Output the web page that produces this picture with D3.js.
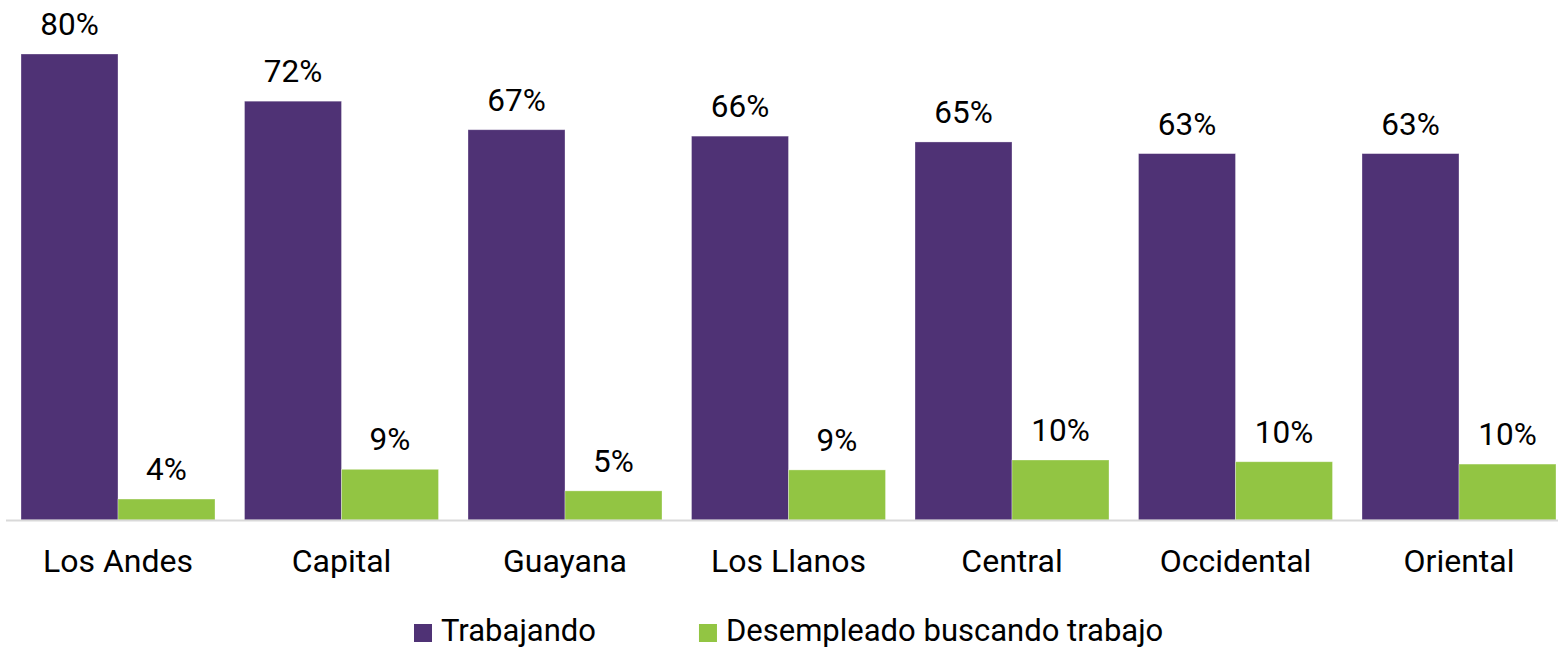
<!DOCTYPE html>
<html>
<head>
<meta charset="utf-8">
<script src="https://cdn.jsdelivr.net/npm/d3@7"></script>
<style>
  body { margin: 0; background: #fff; }
  text { font-family: Roboto, "Noto Sans", sans-serif; fill: #000; }
</style>
</head>
<body>
<div id="chart"></div>
<script>
// Regions and the two series (percent)
const regions = ["Los Andes", "Capital", "Guayana", "Los Llanos", "Central", "Occidental", "Oriental"];
const trabajando = [80, 71.9, 67.0, 65.9, 64.9, 62.9, 62.9];
const desempleado = [3.6, 8.7, 5.0, 8.6, 10.3, 10.0, 9.6];
const seriesNames = ["Trabajando", "Desempleado buscando trabajo"];
const seriesColors = ["#4f3275", "#92c543"];

const width = 1558, height = 649;
const baseline = 520;

const svg = d3.select("#chart")
    .append("svg")
    .attr("width", width)
    .attr("height", height);

// build rows for drawing
const rows = regions.map((r, i) => ({ region: r, values: [trabajando[i], desempleado[i]] }));

const x = d3.scaleBand()
    .domain(regions)
    .range([6.25, 1570.75])
    .paddingInner(0.132)
    .paddingOuter(0.066);

const xSeries = d3.scaleBand()
    .domain(d3.range(seriesNames.length))
    .range([0, x.bandwidth()]);

const y = d3.scaleLinear()
    .domain([0, 80])
    .range([baseline, 54]);

// bars
const groups = svg.selectAll("g.region")
    .data(rows)
    .enter()
    .append("g")
    .attr("class", "region")
    .attr("transform", d => `translate(${x(d.region)},0)`);

groups.selectAll("rect")
    .data(d => d.values.map((v, k) => ({ v, k })))
    .enter()
    .append("rect")
    .attr("x", d => xSeries(d.k))
    .attr("y", d => y(d.v))
    .attr("width", xSeries.bandwidth())
    .attr("height", d => baseline - y(d.v))
    .attr("fill", d => seriesColors[d.k])
    .attr("stroke", "#ffffff")
    .attr("stroke-opacity", 0.4)
    .attr("stroke-width", 0.8);

// value labels
groups.selectAll("text.val")
    .data(d => d.values.map((v, k) => ({ v, k })))
    .enter()
    .append("text")
    .attr("class", "val")
    .attr("x", d => xSeries(d.k) + xSeries.bandwidth() / 2)
    .attr("y", d => y(d.v) - 19)
    .attr("text-anchor", "middle")
    .attr("font-size", "31.5px")
    .text(d => Math.round(d.v) + "%");

// axis line and category labels
svg.append("line")
    .attr("x1", 6).attr("x2", width)
    .attr("y1", baseline + 0.5).attr("y2", baseline + 0.5)
    .attr("stroke", "#d9d9d9")
    .attr("stroke-width", 2);

svg.selectAll("text.cat")
    .data(regions)
    .enter()
    .append("text")
    .attr("class", "cat")
    .attr("x", d => x(d) + x.bandwidth() / 2)
    .attr("y", 572)
    .attr("text-anchor", "middle")
    .attr("font-size", "32px")
    .text(d => d);

// legend
const legend = svg.append("g").attr("class", "legend");
let lx = 414;
seriesNames.forEach((name, k) => {
    legend.append("rect")
        .attr("x", lx).attr("y", 624)
        .attr("width", 18).attr("height", 18)
        .attr("fill", seriesColors[k]);
    const t = legend.append("text")
        .attr("x", lx + 27)
        .attr("y", 641)
        .attr("font-size", "31px")
        .text(name);
    lx = lx + 27 + t.node().getComputedTextLength() + 103;
});
</script>
</body>
</html>
